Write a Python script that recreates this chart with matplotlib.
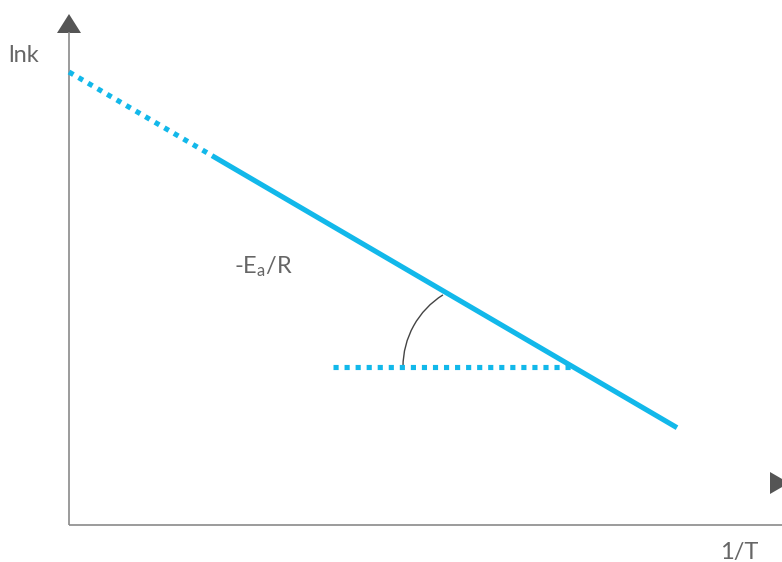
import matplotlib.pyplot as plt
from matplotlib.patches import Arc, Polygon

# Arrhenius sketch, data units ~ pixels from the axis origin
intercept = 453
slope = -0.585
dotted_x = [0, 143]
solid_x = [143, 608]
base_y = 158
base_x = [264, 503]
label_y = "lnk"
label_x = "1/T"
label_slope = r"-E$_\mathregular{a}$/R"

blue = "#12b8ea"
grey = "#8a8a8a"
dark = "#555555"
txt = "#666666"

plt.rcParams['font.family'] = ['Lato', 'DejaVu Sans']
plt.rcParams['mathtext.default'] = 'regular'

fig = plt.figure(figsize=(7.82, 5.62), dpi=100)
ax = fig.add_axes([0, 0, 1, 1])
ax.set_xlim(-69, 713)
ax.set_ylim(-37, 525)
ax.axis("off")

# axes
ax.plot([0, 0], [0, 493], color=grey, lw=1.2, solid_capstyle="butt")
ax.plot([0, 713], [0, 0], color=grey, lw=1.2, solid_capstyle="butt")
ax.add_patch(Polygon([[-12, 492], [12, 492], [0, 511]], closed=True, color=dark, lw=0))
ax.add_patch(Polygon([[701, 53], [701, 31], [720, 42]], closed=True, color=dark, lw=0))

dash = (0, (1.0, 1.15))
ax.plot(dotted_x, [intercept + slope * x for x in dotted_x], color=blue, lw=3.7,
        linestyle=dash, dash_capstyle="butt")
ax.plot(solid_x, [intercept + slope * x for x in solid_x], color=blue, lw=3.7,
        solid_capstyle="butt")
ax.plot(base_x, [base_y, base_y], color=blue, lw=3.7, linestyle=dash,
        dash_capstyle="butt")

ax.add_patch(Arc((419, base_y), 170, 170, theta1=122, theta2=180, color="#444444", lw=1))

ax.text(-45, 470, label_y, color=txt, fontsize=17, ha="center", va="center")
ax.text(670, -27, label_x, color=txt, fontsize=17, ha="center", va="center")
ax.text(194, 258, label_slope, color=txt, fontsize=17, ha="center", va="center")

fig.savefig("out.png", dpi=100)
